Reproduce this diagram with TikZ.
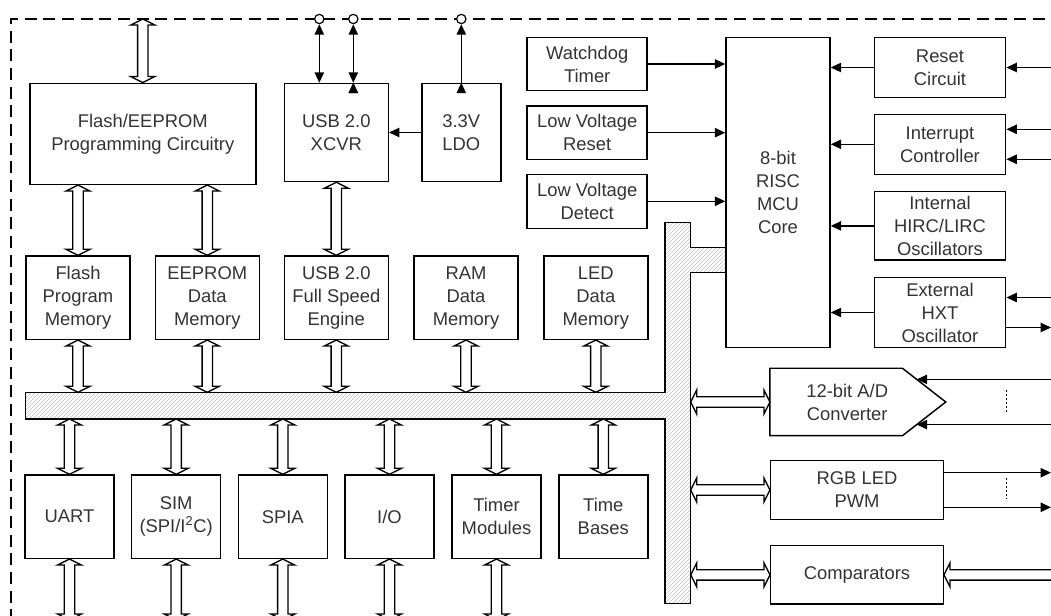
\documentclass[tikz,border=0pt]{standalone}
\usepackage{fontspec}
\setmainfont{Liberation Sans}
\usetikzlibrary{arrows.meta, calc, patterns}

\begin{document}
\begin{tikzpicture}[
            x = 0.75pt, y = -0.75pt,
            block/.style = {draw, rectangle, line width = 1.1pt, inner sep = 0pt, align = center,
                text = black!80, font = \fontsize{13.8}{17.2}\selectfont},
            box size/.style 2 args = {minimum width = #1 * 0.75pt, minimum height = #2 * 0.75pt},
            pad/.style = {draw, circle, fill = white, inner sep = 0pt, minimum size = 7pt, line width = 0.9pt},
            sig/.style = {line width = 1pt, -{Triangle[length = 7.8pt, width = 7pt]}},
            sig2/.style = {line width = 1pt, {Triangle[length = 7.8pt, width = 7pt]}-{Triangle[length = 7.8pt, width = 7pt]}},
            chip edge/.style = {line width = 1.1pt, dash pattern = on 9pt off 5pt},
            bus/.style = {draw, line width = 1.1pt, pattern = north east lines, pattern color = gray!50},
            wide/.style = {draw, fill = white, line width = 1pt, line join = miter,
                to path = {let \p1 = (\tikztostart), \p2 = (\tikztotarget), \n1 = {atan2(\y2 - \y1, \x2 - \x1)} in
                    -- ($(\p1) + (\n1:4.5pt) + (\n1+90:9pt)$)
                    -- ($(\p1) + (\n1:4.5pt) + (\n1+90:3.9pt)$)
                    -- ($(\p2) + (\n1+180:4.5pt) + (\n1+90:3.9pt)$)
                    -- ($(\p2) + (\n1+180:4.5pt) + (\n1+90:9pt)$)
                    -- (\p2)
                    -- ($(\p2) + (\n1+180:4.5pt) + (\n1-90:9pt)$)
                    -- ($(\p2) + (\n1+180:4.5pt) + (\n1-90:3.9pt)$)
                    -- ($(\p1) + (\n1:4.5pt) + (\n1-90:3.9pt)$)
                    -- ($(\p1) + (\n1:4.5pt) + (\n1-90:9pt)$)
                    -- cycle}},
            wide in/.style = {draw, fill = white, line width = 1pt, line join = miter,
                to path = {let \p1 = (\tikztostart), \p2 = (\tikztotarget), \n1 = {atan2(\y2 - \y1, \x2 - \x1)} in
                    -- ($(\p1) + (\n1+90:3.9pt)$)
                    -- ($(\p2) + (\n1+180:4.5pt) + (\n1+90:3.9pt)$)
                    -- ($(\p2) + (\n1+180:4.5pt) + (\n1+90:9pt)$)
                    -- (\p2)
                    -- ($(\p2) + (\n1+180:4.5pt) + (\n1-90:9pt)$)
                    -- ($(\p2) + (\n1+180:4.5pt) + (\n1-90:3.9pt)$)
                    -- ($(\p1) + (\n1-90:3.9pt)$)
                    -- cycle}},
        ]
            \useasboundingbox (0, 0) rectangle (1051, 616);

            \coordinate (top) at (0, 19);
            \coordinate (bot) at (0, 620);
            \coordinate (busT) at (0, 392.3);
            \coordinate (busB) at (0, 419);
            \coordinate (busR) at (690.7, 0);
            \coordinate (rim) at (1051, 0);

            \draw[chip edge] (11, 640) -- (11, 19) -- (1070, 19);

            \draw[bus]
                (25.7, 392.3) -- (665, 392.3) -- (665, 222.3) -- (690.7, 222.3) -- (690.7, 247.3)
                -- (726, 247.3) -- (726, 272.3) -- (690.7, 272.3) -- (690.7, 603.3) -- (665, 603.3)
                -- (665, 419) -- (25.7, 419) -- cycle
            ;

            \draw
                (142.8, 133.8) node (prog) [block, box size = {226}{101}] {Flash/EEPROM\\Programming Circuitry}
                (336.3, 132.5) node (xcvr) [block, box size = {104}{98}] {USB 2.0\\XCVR}
                (461.3, 132.5) node (ldo) [block, box size = {79}{98}] {3.3V\\LDO}

                (587.2, 64) node (wdt) [block, box size = {120}{53.5}] {Watchdog\\Timer}
                (587.2, 132.7) node (lvr) [block, box size = {120}{53.5}] {Low Voltage\\Reset}
                (587.2, 201.3) node (lvd) [block, box size = {120}{54}] {Low Voltage\\Detect}

                (778, 192.5) node (core) [block, box size = {104}{310}] {8-bit\\RISC\\MCU\\Core}

                (940, 67.5) node (rst) [block, box size = {131.4}{60.4}] {Reset\\Circuit}
                (940, 144.3) node (intc) [block, box size = {131.4}{60}] {Interrupt\\Controller}
                (940, 225.9) node (hirc) [block, box size = {131.4}{68.3}] {Internal\\HIRC/LIRC\\Oscillators}
                (940, 312.5) node (hxt) [block, box size = {131.4}{70.4}] {External\\HXT\\Oscillator}

                (78, 297.7) node (fpm) [block, box size = {104}{83.3}] {Flash\\Program\\Memory}
                (207.3, 297.7) node (edm) [block, box size = {104}{83.3}] {EEPROM\\Data\\Memory}
                (336.3, 297.7) node (usb) [block, box size = {104}{83.3}] {USB 2.0\\Full Speed\\Engine}
                (466, 297.7) node (ram) [block, box size = {104}{83.3}] {RAM\\Data\\Memory}
                (595.8, 297.7) node (led) [block, box size = {104}{83.3}] {LED\\Data\\Memory}

                (69.5, 516.7) node (uart) [block, box size = {89}{83.3}] {UART}
                (176.2, 516.7) node (sim) [block, box size = {89}{83.3}] {SIM\\(SPI/I\textsuperscript{2}C)}
                (282.8, 516.7) node (spia) [block, box size = {89}{83.3}] {SPIA}
                (389.5, 516.7) node (io) [block, box size = {89}{83.3}] {I/O}
                (496.5, 516.7) node (tmr) [block, box size = {89}{83.3}] {Timer\\Modules}
                (603.3, 516.7) node (tb) [block, box size = {89}{83.3}] {Time\\Bases}

                (836.2, 402) node (adc) [block, draw = none, box size = {131}{66}] {}
                (857, 490) node (pwm) [block, box size = {172.6}{58.6}] {RGB LED\\PWM}
                (857, 574.9) node (comp) [block, box size = {172.6}{58.3}] {Comparators}

                (319.3, 19) node (p1) [pad] {}
                (353.3, 19) node (p2) [pad] {}
                (461.3, 19) node (p3) [pad] {}
            ;

            \coordinate (adctip) at ($(adc.east) + (43.3, 0)$);
            \coordinate (a1) at ($(adc.north east)!0.33!(adctip)$);
            \coordinate (a2) at ($(adc.south east)!0.33!(adctip)$);
            \draw[line width = 1.1pt]
                (adc.north west) -- (adc.north east) -- (adctip) -- (adc.south east) -- (adc.south west) -- cycle
            ;
            \node (adctext) at ($(adc.center) + (11, 0)$) [block, draw = none] {12-bit A/D\\Converter};

            \draw[wide]
                (prog.north) to (prog.north |- top)
                (prog.south -| fpm.north) to (fpm.north)
                (prog.south -| edm.north) to (edm.north)
                (xcvr.south) to (usb.north)

                (fpm.south) to (fpm.south |- busT)
                (edm.south) to (edm.south |- busT)
                (usb.south) to (usb.south |- busT)
                (ram.south) to (ram.south |- busT)
                (led.south) to (led.south |- busT)

                (busB -| uart.north) to (uart.north)
                (busB -| sim.north) to (sim.north)
                (busB -| spia.north) to (spia.north)
                (busB -| io.north) to (io.north)
                (busB -| tmr.north) to (tmr.north)
                (busB -| tb.north) to (tb.north)

                (uart.south) to (uart.south |- bot)
                (sim.south) to (sim.south |- bot)
                (spia.south) to (spia.south |- bot)
                (io.south) to (io.south |- bot)
                (tmr.south) to (tmr.south |- bot)

                (busR |- adc.west) to (adc.west)
                (busR |- pwm.west) to (pwm.west)
                (busR |- comp.west) to (comp.west)
            ;
            \draw[wide in] ($(comp.east -| rim) + (10, 0)$) to (comp.east);

            \draw[sig]
                (wdt.east) edge (wdt.east -| core.west)
                (lvr.east) edge (lvr.east -| core.west)
                (lvd.east) edge (lvd.east -| core.west)
                (rst.west) edge (rst.west -| core.east)
                (intc.west) edge (intc.west -| core.east)
                (hirc.west) edge (hirc.west -| core.east)
                (hxt.west) edge (hxt.west -| core.east)
                (rst.east -| rim) edge (rst.east)
                ($(intc.east -| rim) + (0, -15)$) edge ($(intc.east) + (0, -15)$)
                ($(intc.east -| rim) + (0, 15)$) edge ($(intc.east) + (0, 15)$)
                ($(hxt.east -| rim) + (0, -15)$) edge ($(hxt.east) + (0, -15)$)
                ($(hxt.east) + (0, 15)$) edge ($(hxt.east -| rim) + (0, 15)$)
                (rim |- a1) edge (a1)
                (rim |- a2) edge (a2)
                ($(pwm.east) + (0, -17.3)$) edge ($(pwm.east -| rim) + (0, -17.3)$)
                ($(pwm.east) + (0, 17.3)$) edge ($(pwm.east -| rim) + (0, 17.3)$)
                (ldo.west) edge (xcvr.east)
                (ldo.north) edge (p3.south)
            ;

            \draw[sig2]
                (p1.south |- xcvr.north) edge (p1.south)
                (p2.south |- xcvr.north) edge (p2.south)
            ;

            \draw[line width = 0.7pt, dash pattern = on 1.5pt off 1.5pt]
                (1006, 390) -- (1006, 411.7)
                (1006, 478) -- (1006, 499.3)
            ;

        \end{tikzpicture}
\end{document}
